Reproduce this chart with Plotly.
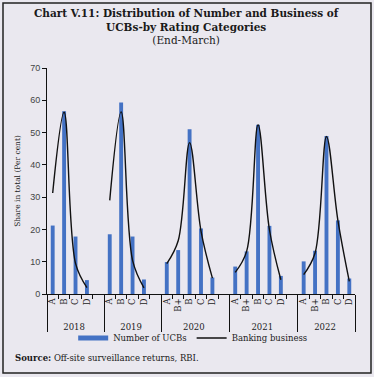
import plotly.graph_objects as go

# ---- data ----
years = ["2018", "2019", "2020", "2021", "2022"]
rating_order = ["A", "B+", "B", "C", "D", " "]
year_cats = {
    "2018": ["A", "B", "C", "D", " "],
    "2019": ["A", "B", "C", "D", " "],
    "2020": ["A", "B+", "B", "C", "D", " "],
    "2021": ["A", "B+", "B", "C", "D", " "],
    "2022": ["A", "B+", "B", "C", "D"],
}
number_of_ucbs = {
    "2018": [21.2, 56.6, 17.8, 4.3, None],
    "2019": [18.5, 59.3, 17.8, 4.5, None],
    "2020": [9.9, 13.6, 51.0, 20.3, 5.1, None],
    "2021": [8.5, 13.2, 52.4, 21.1, 5.6, None],
    "2022": [10.1, 13.4, 48.9, 22.8, 4.8],
}
banking_business = {
    "2018": [31.3, 56.3, 9.5, 2.0, None],
    "2019": [29.0, 56.4, 10.4, 1.9, None],
    "2020": [9.4, 16.5, 46.9, 19.5, 4.9, None],
    "2021": [6.7, 13.2, 52.4, 19.9, 4.4, None],
    "2022": [6.0, 12.7, 48.8, 22.8, 3.9],
}

# line trace: chronological order
lx_outer, lx_inner, line = [], [], []
for y in years:
    for c, l in zip(year_cats[y], banking_business[y]):
        lx_outer.append(y)
        lx_inner.append(c)
        line.append(l)

# bar trace: ordered rating-first so plotly's multicategory order is A, B+, B, C, D
bx_outer, bx_inner, bars = [], [], []
for r in rating_order:
    for y in years:
        if r in year_cats[y]:
            i = year_cats[y].index(r)
            bx_outer.append(y)
            bx_inner.append(r)
            bars.append(number_of_ucbs[y][i])

W, H = 374, 377
L, R, T, B = 47, 19, 68, 83
BG = "#EAE8EF"
SERIF = "DejaVu Serif"


def px_x(p):
    return (p - L) / (W - L - R)


def px_y(p):
    return (H - B - p) / (H - T - B)


fig = go.Figure()
fig.add_trace(go.Bar(
    x=[bx_outer, bx_inner], y=bars, name="Number of UCBs",
    marker=dict(color="#4472C4", line=dict(width=0)), showlegend=False,
))
fig.add_trace(go.Scatter(
    x=[lx_outer, lx_inner], y=line, name="Banking business", mode="lines",
    line=dict(color="#111111", width=1.4, shape="spline", smoothing=1.0),
    connectgaps=False, showlegend=False,
))
# legend entries
fig.add_trace(go.Scatter(
    x=[None], y=[None], mode="lines", name="Number of UCBs",
    line=dict(color="#4472C4", width=5),
))
fig.add_trace(go.Scatter(
    x=[None], y=[None], mode="lines", name="Banking business",
    line=dict(color="#111111", width=1.6),
))

fig.update_layout(
    width=W, height=H,
    margin=dict(l=L, r=R, t=T, b=B),
    paper_bgcolor=BG, plot_bgcolor=BG,
    bargap=0.66,
    legend=dict(
        orientation="h", x=0.473, xanchor="center", y=px_y(338), yanchor="middle",
        font=dict(family=SERIF, size=8.5, color="#222222"),
        bgcolor="rgba(0,0,0,0)", itemwidth=30, tracegroupgap=0,
    ),
    xaxis=dict(
        type="multicategory", showline=True, linecolor="#111111", linewidth=1,
        ticks="outside", tickson="boundaries", ticklen=4, tickcolor="#111111",
        tickangle=-90, showgrid=False,
        tickfont=dict(family=SERIF, size=8.5, color="#222222"),
        showdividers=True, dividercolor="#111111", dividerwidth=1,
    ),
    yaxis=dict(
        range=[0, 70], dtick=10, showline=True, linecolor="#111111", linewidth=1,
        ticks="outside", ticklen=4, tickcolor="#111111", showgrid=False,
        zeroline=False,
        tickfont=dict(family="Liberation Sans", size=9, color="#444444"),
        title=dict(text="Share in total (Per cent)", standoff=8,
                   font=dict(family=SERIF, size=7.5, color="#222222")),
    ),
    annotations=[
        dict(
            text="<b>Chart V.11: Distribution of Number and Business of<br>"
                 "UCBs-by Rating Categories</b><br>(End-March)",
            xref="paper", yref="paper", x=px_x(187), y=px_y(5),
            xanchor="center", yanchor="top", showarrow=False,
            font=dict(family=SERIF, size=10.5, color="#1a1a1a"),
        ),
        dict(
            text="<b>Source:</b> Off-site surveillance returns, RBI.",
            xref="paper", yref="paper", x=px_x(13), y=px_y(358),
            xanchor="left", yanchor="middle", showarrow=False,
            font=dict(family=SERIF, size=8.5, color="#1a1a1a"),
        ),
    ],
    shapes=[dict(
        type="rect", xref="paper", yref="paper",
        x0=px_x(3), x1=px_x(371), y0=px_y(373), y1=px_y(3),
        line=dict(color="#222222", width=1.5), fillcolor="rgba(0,0,0,0)",
        layer="below",
    )],
)

fig.write_html(
    "out.html",
    config={"displayModeBar": False},
    post_script="document.body.style.margin='0';document.body.style.overflow='hidden';",
)
